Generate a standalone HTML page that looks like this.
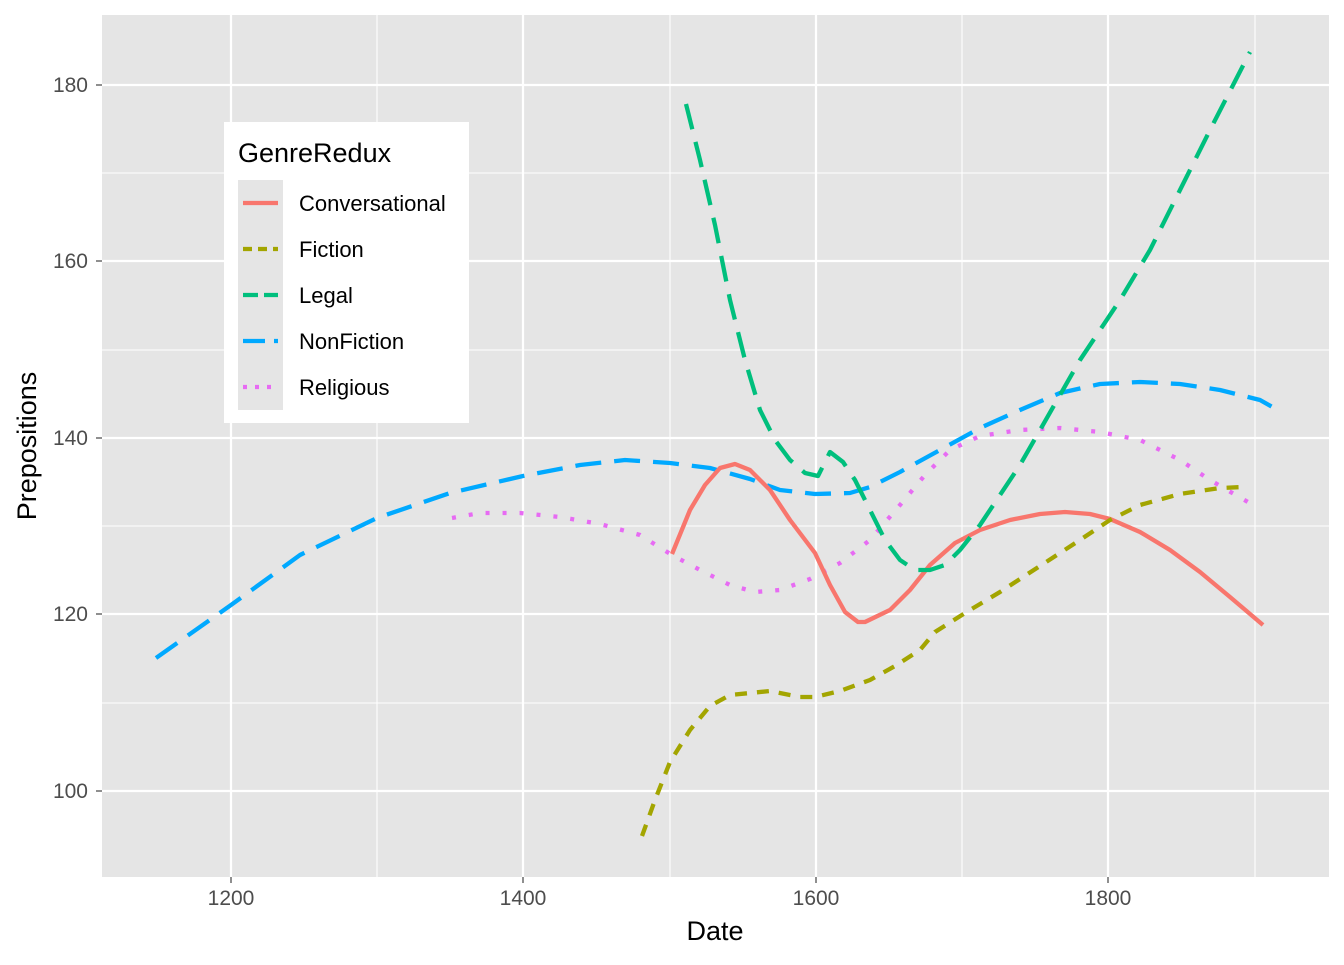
<!DOCTYPE html><html><head><style>body{margin:0;background:#fff}svg text{font-family:"Liberation Sans",Arial,sans-serif}</style></head><body>
<svg width="1344" height="960" xmlns="http://www.w3.org/2000/svg">
<rect x="102" y="15" width="1227" height="862" fill="#e5e5e5"/>
<g stroke="#fff" stroke-width="1.1">
<line x1="102" x2="1329" y1="703" y2="703"/><line x1="102" x2="1329" y1="526" y2="526"/><line x1="102" x2="1329" y1="350" y2="350"/><line x1="102" x2="1329" y1="173" y2="173"/>
<line x1="377" x2="377" y1="15" y2="877"/><line x1="670" x2="670" y1="15" y2="877"/><line x1="962" x2="962" y1="15" y2="877"/><line x1="1255" x2="1255" y1="15" y2="877"/>
</g>
<g stroke="#fff" stroke-width="2.2">
<line x1="102" x2="1329" y1="791" y2="791"/><line x1="102" x2="1329" y1="614" y2="614"/><line x1="102" x2="1329" y1="438" y2="438"/><line x1="102" x2="1329" y1="261" y2="261"/><line x1="102" x2="1329" y1="85" y2="85"/>
<line x1="231" x2="231" y1="15" y2="877"/><line x1="523" x2="523" y1="15" y2="877"/><line x1="816" x2="816" y1="15" y2="877"/><line x1="1108" x2="1108" y1="15" y2="877"/>
</g>
<g fill="none" stroke-width="4.3" stroke-linejoin="round">
<polyline stroke="#00a9ff" stroke-dasharray="26 13" points="156,658 231,605 300,555 377,518 450,493 523,476 580,465 625,460 670,463 710,468 750,479 780,490 815,494 850,493 870,487 900,472 940,450 980,428 1020,410 1060,393 1100,384 1140,382 1180,384 1220,390 1260,400 1276,409"/>
<polyline stroke="#e76bf3" stroke-dasharray="4 13" points="452,518 480,513 520,513 560,517 600,524 640,535 672,555 700,570 730,585 755,592 780,590 810,579 840,563 870,540 900,505 925,475 950,450 980,436 1020,430 1060,428 1100,432 1140,440 1180,460 1210,480 1253,505"/>
<polyline stroke="#f8766d" points="672,554 690,510 705,485 720,468 735,464 750,470 770,490 790,520 815,553 830,585 845,612 858,622 865,622 890,610 910,590 930,565 955,543 980,530 1010,520 1040,514 1065,512 1090,514 1110,519 1140,532 1170,550 1200,572 1230,597 1263,625"/>
<polyline stroke="#a3a500" stroke-dasharray="12 10" points="642,836 655,800 670,762 690,730 710,706 730,695 770,691 800,697 815,697 840,691 870,680 895,666 920,650 935,632 965,613 1000,592 1040,566 1080,540 1110,520 1140,505 1180,494 1220,488 1243,487"/>
<polyline stroke="#00bf7d" stroke-dasharray="26 13" points="686,104 700,160 715,225 730,300 745,360 760,410 775,440 790,460 805,473 818,476 830,452 843,462 855,480 870,510 885,540 900,560 915,570 930,570 945,565 960,550 980,525 1000,495 1020,465 1040,430 1060,395 1080,360 1100,330 1120,300 1150,250 1180,190 1210,130 1250,52"/>
</g>
<g font-size="21" fill="#4d4d4d" text-anchor="end">
<text x="88" y="798">100</text><text x="88" y="621">120</text><text x="88" y="445">140</text><text x="88" y="268">160</text><text x="88" y="92">180</text></g>
<g font-size="21" fill="#4d4d4d" text-anchor="middle">
<text x="231" y="905">1200</text><text x="523" y="905">1400</text><text x="816" y="905">1600</text><text x="1108" y="905">1800</text></g>
<g stroke="#333" stroke-width="1.1"><line x1="96" x2="102" y1="791" y2="791"/><line x1="96" x2="102" y1="614" y2="614"/><line x1="96" x2="102" y1="438" y2="438"/><line x1="96" x2="102" y1="261" y2="261"/><line x1="96" x2="102" y1="85" y2="85"/>
<line x1="231" x2="231" y1="877" y2="883"/><line x1="523" x2="523" y1="877" y2="883"/><line x1="816" x2="816" y1="877" y2="883"/><line x1="1108" x2="1108" y1="877" y2="883"/></g>
<text x="715" y="940" font-size="27" text-anchor="middle">Date</text>
<text transform="translate(36,446) rotate(-90)" font-size="27" text-anchor="middle">Prepositions</text>
<rect x="224" y="122" width="245" height="301" fill="#fff"/>
<text x="238" y="162" font-size="27">GenreRedux</text>
<rect x="238" y="180" width="45" height="230" fill="#e5e5e5"/>
<g fill="none" stroke-width="4.3">
<line x1="243" x2="278" y1="203" y2="203" stroke="#f8766d"/>
<line x1="243" x2="278" y1="249" y2="249" stroke="#a3a500" stroke-dasharray="9 6"/>
<line x1="243" x2="278" y1="295" y2="295" stroke="#00bf7d" stroke-dasharray="15 6"/>
<line x1="243" x2="278" y1="341" y2="341" stroke="#00a9ff" stroke-dasharray="22 9"/>
<line x1="243" x2="278" y1="387" y2="387" stroke="#e76bf3" stroke-dasharray="4 8"/>
</g>
<g font-size="22" fill="#000"><text x="299" y="211">Conversational</text><text x="299" y="257">Fiction</text><text x="299" y="303">Legal</text><text x="299" y="349">NonFiction</text><text x="299" y="395">Religious</text></g>
</svg></body></html>
